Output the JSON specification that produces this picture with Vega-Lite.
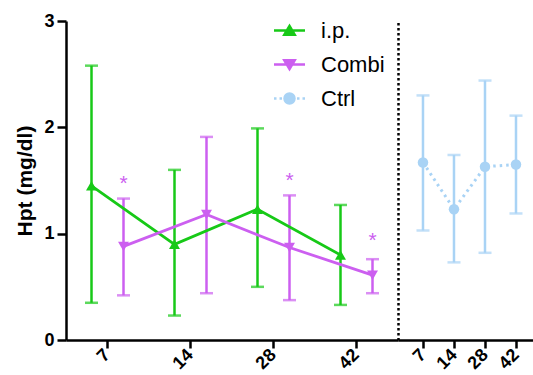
{
  "$schema": "https://vega.github.io/schema/vega-lite/v6.json",
  "background": "white",
  "padding": {"left": 14, "top": 12, "right": 0, "bottom": 0},
  "spacing": 0,
  "bounds": "flush",
  "config": {
    "view": {"stroke": null},
    "font": "Liberation Sans",
    "axis": {
      "grid": false,
      "domainColor": "black",
      "domainWidth": 2.5,
      "tickColor": "black",
      "tickWidth": 2.5,
      "labelColor": "black",
      "labelFont": "Liberation Sans",
      "labelFontSize": 18,
      "labelFontWeight": "bold",
      "titleColor": "black",
      "titleFont": "Liberation Sans",
      "titleFontSize": 21,
      "titleFontWeight": "bold"
    },
    "axisX": {"title": null, "labelAngle": -45, "labelAlign": "right", "labelBaseline": "middle", "tickSize": 8, "labelPadding": 4},
    "axisY": {"tickSize": 9, "labelPadding": 3, "titlePadding": 8}
  },
  "datasets": {
    "treat": [
      {"series": "i.p.", "day": 7, "mean": 1.45, "lo": 0.35, "hi": 2.58},
      {"series": "i.p.", "day": 14, "mean": 0.9, "lo": 0.23, "hi": 1.6},
      {"series": "i.p.", "day": 28, "mean": 1.23, "lo": 0.5, "hi": 1.99},
      {"series": "i.p.", "day": 42, "mean": 0.8, "lo": 0.33, "hi": 1.27},
      {"series": "Combi", "day": 7, "mean": 0.88, "lo": 0.42, "hi": 1.33},
      {"series": "Combi", "day": 14, "mean": 1.18, "lo": 0.44, "hi": 1.91},
      {"series": "Combi", "day": 28, "mean": 0.87, "lo": 0.375, "hi": 1.36},
      {"series": "Combi", "day": 42, "mean": 0.61, "lo": 0.44, "hi": 0.76}
    ],
    "ctrl": [
      {"series": "Ctrl", "day": 7, "mean": 1.67, "lo": 1.03, "hi": 2.3},
      {"series": "Ctrl", "day": 14, "mean": 1.23, "lo": 0.73, "hi": 1.74},
      {"series": "Ctrl", "day": 28, "mean": 1.63, "lo": 0.82, "hi": 2.44},
      {"series": "Ctrl", "day": 42, "mean": 1.65, "lo": 1.19, "hi": 2.11}
    ],
    "stars": [
      {"series": "Combi", "day": 7, "y": 1.47, "label": "*"},
      {"series": "Combi", "day": 28, "y": 1.5, "label": "*"},
      {"series": "Combi", "day": 42, "y": 0.93, "label": "*"}
    ]
  },
  "hconcat": [
    {
      "width": 332,
      "height": 319,
      "layer": [
        {
          "data": {"name": "treat"},
          "encoding": {
            "x": {"field": "day", "type": "ordinal", "sort": [7, 14, 28, 42], "scale": {"paddingInner": 0, "paddingOuter": 0}},
            "xOffset": {"field": "series", "type": "nominal", "sort": ["i.p.", "Combi"], "scale": {"paddingInner": 0, "paddingOuter": 0.297}},
            "color": {
              "field": "series", "type": "nominal",
              "scale": {"domain": ["i.p.", "Combi", "Ctrl"], "range": ["#17c917", "#cc5ff0", "#a9d3f5"]},
              "legend": {
                "orient": "none",
                "legendX": 212,
                "legendY": -2,
                "title": null,
                "labelFontSize": 22,
                "labelFont": "Liberation Sans",
                "labelFontWeight": "normal",
                "labelColor": "black",
                "symbolSize": 400,
                "symbolStrokeWidth": 2.5,
                "labelOffset": 20,
                "rowPadding": 11,
                "encode": {
                  "symbols": {
                    "update": {
                      "shape": {"signal": "datum.value === 'Ctrl' ? 'M-1.55,0H-1.3M-1.0,0H-0.75M0.75,0H1.0M1.3,0H1.55M-0.5,0A0.5,0.5 0 1,0 0.5,0A0.5,0.5 0 1,0 -0.5,0Z' : (datum.value === 'i.p.' ? 'M-1.55,0H1.55M0,-0.45L0.52,0.42L-0.52,0.42Z' : 'M-1.55,0H1.55M0,0.45L0.52,-0.42L-0.52,-0.42Z')"},
                      "fill": {"scale": "color", "field": "value"},
                      "stroke": {"scale": "color", "field": "value"},
                      "strokeDash": {"value": []},
                      "opacity": {"value": 1}
                    }
                  }
                }
              }
            }
          },
          "layer": [
            {"mark": {"type": "rule", "strokeWidth": 2.5},
             "encoding": {"y": {"field": "lo", "type": "quantitative", "title": "Hpt (mg/dl)", "scale": {"domain": [0, 3], "nice": false}, "axis": {"values": [0, 1, 2, 3], "format": "d"}}, "y2": {"field": "hi"}}},
            {"mark": {"type": "tick", "orient": "horizontal", "size": 13, "thickness": 2.5},
             "encoding": {"y": {"field": "lo", "type": "quantitative", "title": "Hpt (mg/dl)"}}},
            {"mark": {"type": "tick", "orient": "horizontal", "size": 13, "thickness": 2.5},
             "encoding": {"y": {"field": "hi", "type": "quantitative", "title": "Hpt (mg/dl)"}}},
            {"mark": {"type": "line", "strokeWidth": 2.8},
             "encoding": {"y": {"field": "mean", "type": "quantitative", "title": "Hpt (mg/dl)"}}},
            {"transform": [{"filter": "datum.series === 'i.p.'"}],
             "mark": {"type": "point", "filled": true, "size": 120, "opacity": 1, "shape": "triangle-up"},
             "encoding": {"y": {"field": "mean", "type": "quantitative", "title": "Hpt (mg/dl)"}}},
            {"transform": [{"filter": "datum.series === 'Combi'"}],
             "mark": {"type": "point", "filled": true, "size": 120, "opacity": 1, "shape": "triangle-down"},
             "encoding": {"y": {"field": "mean", "type": "quantitative", "title": "Hpt (mg/dl)"}}}
          ]
        },
        {
          "data": {"name": "stars"},
          "mark": {"type": "text", "fontSize": 21, "color": "#cc5ff0", "baseline": "middle", "font": "Liberation Sans"},
          "encoding": {
            "x": {"field": "day", "type": "ordinal", "sort": [7, 14, 28, 42]},
            "xOffset": {"field": "series", "type": "nominal", "sort": ["i.p.", "Combi"]},
            "y": {"field": "y", "type": "quantitative", "title": "Hpt (mg/dl)"},
            "text": {"field": "label"}
          }
        }
      ]
    },
    {
      "width": 135,
      "height": 319,
      "data": {"name": "ctrl"},
      "encoding": {
        "x": {"field": "day", "type": "ordinal", "sort": [7, 14, 28, 42], "scale": {"type": "point", "padding": 0.677, "align": 0.595}},
        "color": {"field": "series", "type": "nominal", "scale": {"domain": ["i.p.", "Combi", "Ctrl"], "range": ["#17c917", "#cc5ff0", "#a9d3f5"]}}
      },
      "layer": [
        {"mark": {"type": "rule", "strokeWidth": 2.5},
         "encoding": {"y": {"field": "lo", "type": "quantitative", "scale": {"domain": [0, 3], "nice": false},
           "axis": {"title": null, "labels": false, "ticks": false, "domainDash": [2.5, 2.5], "domainWidth": 2.5, "domainColor": "black"}}, "y2": {"field": "hi"}}},
        {"mark": {"type": "tick", "orient": "horizontal", "size": 13, "thickness": 2.5},
         "encoding": {"y": {"field": "lo", "type": "quantitative"}}},
        {"mark": {"type": "tick", "orient": "horizontal", "size": 13, "thickness": 2.5},
         "encoding": {"y": {"field": "hi", "type": "quantitative"}}},
        {"mark": {"type": "line", "strokeWidth": 3, "strokeDash": [2.5, 4]},
         "encoding": {"y": {"field": "mean", "type": "quantitative"}}},
        {"mark": {"type": "point", "filled": true, "size": 110, "opacity": 1, "shape": "circle"},
         "encoding": {"y": {"field": "mean", "type": "quantitative"}}}
      ]
    }
  ]
}
